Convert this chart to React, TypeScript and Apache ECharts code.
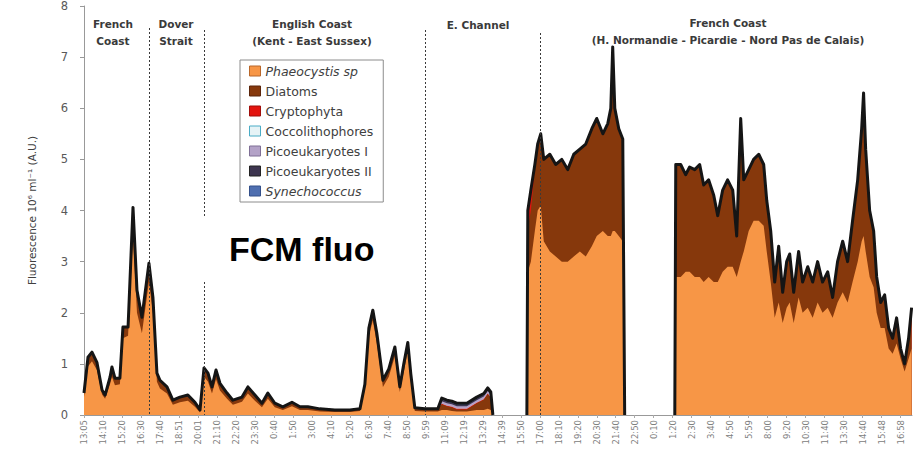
import React, { useEffect, useRef } from 'react';
import * as echarts from 'echarts';

// ---- tick labels (time of day, one per x unit) ----
const tickLabels = [
  '13:05', '14:10', '15:20', '16:30', '17:40', '18:51', '20:01', '21:10', '22:20', '23:30',
  '0:40', '1:50', '3:00', '4:10', '5:20', '6:30', '7:40', '8:50', '9:59', '11:09',
  '12:19', '13:29', '14:39', '15:50', '17:00', '18:10', '19:20', '20:30', '21:40', '22:50',
  '0:10', '1:20', '2:30', '3:40', '4:50', '5:59', '8:00', '9:20', '10:30', '11:40',
  '13:30', '14:40', '15:48', '16:58',
];

// ---- sample positions along the transect (in tick units) ----
const sampleTimes = [
  0, 0.21, 0.42, 0.68, 0.95, 1.11, 1.37, 1.47, 1.63, 1.89,
  2.05, 2.32, 2.58, 2.79, 3.05, 3.42, 3.63, 3.84, 4.0, 4.37,
  4.68, 5.05, 5.47, 5.84, 6.11, 6.32, 6.53, 6.74, 6.95, 7.16,
  7.53, 7.84, 8.32, 8.63, 9.0, 9.37, 9.68, 10.05, 10.47, 10.95,
  11.37, 11.79, 12.42, 13.21, 14.0, 14.53, 14.79, 15.0, 15.21, 15.42,
  15.74, 16.05, 16.37, 16.63, 16.84, 17.05, 17.21, 17.42, 17.95, 18.63,
  18.84, 19.11, 19.37, 19.63, 20.16, 20.68, 21.05, 21.26, 21.42, 21.53,
  22.4, 23.32, 23.37, 23.53, 23.74, 23.89, 24.05, 24.21, 24.53, 24.84,
  25.16, 25.47, 25.79, 26.11, 26.42, 26.74, 27.0, 27.32, 27.58, 27.74,
  27.84, 27.95, 28.16, 28.37, 28.47, 29.8, 31.11, 31.16, 31.42, 31.68,
  31.89, 32.16, 32.42, 32.63, 32.89, 33.16, 33.37, 33.63, 33.89, 34.16,
  34.37, 34.58, 34.74, 35.0, 35.26, 35.53, 35.79, 35.95, 36.16, 36.37,
  36.58, 36.79, 37.0, 37.16, 37.37, 37.63, 37.84, 38.11, 38.37, 38.63,
  38.89, 39.16, 39.42, 39.68, 39.95, 40.21, 40.47, 40.74, 40.95, 41.05,
  41.16, 41.37, 41.58, 41.74, 41.95, 42.16, 42.37, 42.58, 42.79, 43.0,
  43.21, 43.42, 43.58,
];

// ---- fluorescence per group (10^6 ml^-1, A.U.); null = no data ----
const phaeocystis = [
  0.35, 0.95, 1.05, 0.88, 0.40, 0.32, 0.60, 0.75, 0.58, 0.60,
  1.50, 1.55, 3.50, 2.00, 1.60, 2.60, 2.00, 0.65, 0.52, 0.42,
  0.20, 0.25, 0.28, 0.16, 0.05, 0.75, 0.65, 0.42, 0.70, 0.48,
  0.32, 0.20, 0.26, 0.42, 0.28, 0.15, 0.32, 0.15, 0.10, 0.17,
  0.10, 0.10, 0.07, 0.06, 0.06, 0.08, 0.50, 1.55, 1.85, 1.40,
  0.55, 0.75, 1.15, 0.45, 0.85, 1.25, 0.65, 0.08, 0.07, 0.07,
  0.10, 0.10, 0.08, 0.07, 0.07, 0.10, 0.10, 0.12, 0.10, 0,
  null, 0, 2.8, 3.0, 3.6, 4.0, 4.1, 3.4, 3.2, 3.1,
  3.0, 3.0, 3.1, 3.2, 3.1, 3.3, 3.5, 3.6, 3.5, 3.5,
  3.6, 3.6, 3.5, 3.4, 0, null, 0, 2.7, 2.7, 2.8,
  2.8, 2.7, 2.7, 2.6, 2.7, 2.6, 2.6, 2.8, 2.9, 2.9,
  2.7, 3.0, 3.2, 3.6, 3.8, 3.8, 3.7, 3.2, 2.6, 1.9,
  2.2, 1.8, 2.1, 2.2, 1.8, 2.3, 2.0, 2.1, 1.9, 2.2,
  2.0, 2.1, 1.9, 2.2, 2.4, 2.2, 2.6, 3.0, 3.4, 3.5,
  3.2, 2.7, 2.5, 2.0, 1.7, 1.7, 1.3, 1.2, 1.4, 1.1,
  0.85, 1.1, 1.3,
];
const diatoms = [
  0.08, 0.18, 0.18, 0.15, 0.09, 0.07, 0.14, 0.19, 0.14, 0.12,
  0.22, 0.17, 0.56, 0.44, 0.31, 0.37, 0.30, 0.17, 0.16, 0.13,
  0.09, 0.10, 0.11, 0.09, 0.05, 0.17, 0.17, 0.13, 0.18, 0.14,
  0.11, 0.09, 0.09, 0.13, 0.11, 0.08, 0.11, 0.08, 0.06, 0.08,
  0.06, 0.06, 0.05, 0.04, 0.04, 0.04, 0.10, 0.15, 0.20, 0.20,
  0.13, 0.15, 0.18, 0.10, 0.15, 0.17, 0.15, 0.06, 0.05, 0.05,
  0.11, 0.07, 0.07, 0.04, 0.04, 0.13, 0.20, 0.29, 0.23, 0,
  null, 0, 0.85, 1.0, 1.2, 1.3, 1.4, 1.6, 1.9, 1.8,
  2.0, 1.8, 2.0, 2.0, 2.2, 2.3, 2.3, 1.9, 2.2, 2.5,
  3.6, 2.4, 2.1, 2.0, 0, null, 0, 2.2, 2.2, 1.9,
  2.05, 2.1, 2.2, 1.9, 1.9, 1.7, 1.3, 1.6, 1.7, 1.5,
  0.8, 2.8, 1.4, 1.2, 1.2, 1.3, 1.2, 1.0, 1.0, 0.7,
  1.1, 0.6, 0.9, 0.95, 0.6, 0.9, 0.6, 0.8, 0.7, 0.8,
  0.6, 0.7, 0.4, 0.8, 1.0, 0.8, 1.2, 1.6, 2.2, 2.8,
  2.0, 1.3, 1.1, 0.7, 0.5, 0.65, 0.4, 0.3, 0.5, 0.2,
  0.15, 0.4, 0.8,
];
const cryptophyta = [
  0, 0, 0, 0, 0, 0, 0, 0, 0, 0,
  0, 0, 0, 0, 0, 0, 0, 0, 0, 0,
  0, 0, 0, 0, 0, 0, 0, 0, 0, 0,
  0, 0, 0, 0, 0, 0, 0, 0, 0, 0,
  0, 0, 0, 0, 0, 0, 0, 0, 0, 0,
  0, 0, 0, 0, 0, 0, 0, 0, 0, 0,
  0.01, 0.01, 0.01, 0.01, 0.01, 0.01, 0.01, 0.01, 0.01, 0,
  null, 0, 0.35, 0.4, 0.1, 0, 0, 0, 0, 0,
  0, 0, 0, 0, 0, 0, 0, 0, 0, 0,
  0, 0, 0, 0, 0, null, 0, 0, 0, 0,
  0, 0, 0, 0, 0, 0, 0, 0, 0, 0,
  0, 0, 0, 0, 0, 0, 0, 0, 0, 0,
  0, 0, 0, 0, 0, 0, 0, 0, 0, 0,
  0, 0, 0, 0, 0, 0, 0, 0, 0, 0,
  0, 0, 0, 0, 0, 0, 0, 0, 0, 0,
  0, 0, 0,
];
const coccolithophores = [
  0, 0, 0, 0, 0, 0, 0, 0, 0, 0,
  0, 0, 0, 0, 0, 0, 0, 0, 0, 0,
  0, 0, 0, 0, 0, 0, 0, 0, 0, 0,
  0, 0, 0, 0, 0, 0, 0, 0, 0, 0,
  0, 0, 0, 0, 0, 0, 0, 0, 0, 0,
  0, 0, 0, 0, 0, 0, 0, 0, 0, 0,
  0, 0, 0, 0, 0, 0, 0, 0, 0, 0,
  null, 0, 0, 0, 0, 0, 0, 0, 0, 0,
  0, 0, 0, 0, 0, 0, 0, 0, 0, 0,
  0, 0, 0, 0, 0, null, 0, 0, 0, 0,
  0, 0, 0, 0, 0, 0, 0, 0, 0, 0,
  0, 0, 0, 0, 0, 0, 0, 0, 0, 0,
  0, 0, 0, 0, 0, 0, 0, 0, 0, 0,
  0, 0, 0, 0, 0, 0, 0, 0, 0, 0,
  0, 0, 0, 0, 0, 0, 0, 0, 0, 0,
  0, 0, 0,
];
const picoeukaryotesI = [
  0, 0, 0, 0, 0, 0, 0, 0, 0, 0,
  0, 0, 0, 0, 0, 0, 0, 0, 0, 0,
  0, 0, 0, 0, 0, 0, 0, 0, 0, 0,
  0, 0, 0, 0, 0, 0, 0, 0, 0, 0,
  0, 0, 0, 0, 0, 0, 0, 0, 0, 0,
  0, 0, 0, 0, 0, 0, 0, 0, 0, 0,
  0.05, 0.05, 0.05, 0.05, 0.05, 0.05, 0.05, 0.05, 0.05, 0,
  null, 0, 0, 0, 0, 0, 0, 0, 0, 0,
  0, 0, 0, 0, 0, 0, 0, 0, 0, 0,
  0, 0, 0, 0, 0, null, 0, 0, 0, 0,
  0, 0, 0, 0, 0, 0, 0, 0, 0, 0,
  0, 0, 0, 0, 0, 0, 0, 0, 0, 0,
  0, 0, 0, 0, 0, 0, 0, 0, 0, 0,
  0, 0, 0, 0, 0, 0, 0, 0, 0, 0,
  0, 0, 0, 0, 0, 0, 0, 0, 0, 0,
  0, 0, 0,
];
const picoeukaryotesII = [
  0, 0, 0, 0, 0, 0, 0, 0, 0, 0,
  0, 0, 0, 0, 0, 0, 0, 0, 0, 0,
  0, 0, 0, 0, 0, 0, 0, 0, 0, 0,
  0, 0, 0, 0, 0, 0, 0, 0, 0, 0,
  0, 0, 0, 0, 0, 0, 0, 0, 0, 0,
  0, 0, 0, 0, 0, 0, 0, 0, 0, 0,
  0.03, 0.03, 0.03, 0.03, 0.03, 0.03, 0.03, 0.03, 0.03, 0,
  null, 0, 0, 0, 0, 0, 0, 0, 0, 0,
  0, 0, 0, 0, 0, 0, 0, 0, 0, 0,
  0, 0, 0, 0, 0, null, 0, 0, 0, 0,
  0, 0, 0, 0, 0, 0, 0, 0, 0, 0,
  0, 0, 0, 0, 0, 0, 0, 0, 0, 0,
  0, 0, 0, 0, 0, 0, 0, 0, 0, 0,
  0, 0, 0, 0, 0, 0, 0, 0, 0, 0,
  0, 0, 0, 0, 0, 0, 0, 0, 0, 0,
  0, 0, 0,
];
const synechococcus = [
  0, 0, 0, 0, 0, 0, 0, 0, 0, 0,
  0, 0, 0, 0, 0, 0, 0, 0, 0, 0,
  0, 0, 0, 0, 0, 0, 0, 0, 0, 0,
  0, 0, 0, 0, 0, 0, 0, 0, 0, 0,
  0, 0, 0, 0, 0, 0, 0, 0, 0, 0,
  0, 0, 0, 0, 0, 0, 0, 0, 0, 0,
  0.03, 0.03, 0.03, 0.03, 0.03, 0.03, 0.03, 0.03, 0.03, 0,
  null, 0, 0, 0, 0, 0, 0, 0, 0, 0,
  0, 0, 0, 0, 0, 0, 0, 0, 0, 0,
  0, 0, 0, 0, 0, null, 0, 0, 0, 0,
  0, 0, 0, 0, 0, 0, 0, 0, 0, 0,
  0, 0, 0, 0, 0, 0, 0, 0, 0, 0,
  0, 0, 0, 0, 0, 0, 0, 0, 0, 0,
  0, 0, 0, 0, 0, 0, 0, 0, 0, 0,
  0, 0, 0, 0, 0, 0, 0, 0, 0, 0,
  0, 0, 0,
];

const groupNames = [
  'Phaeocystis sp', 'Diatoms', 'Cryptophyta', 'Coccolithophores',
  'Picoeukaryotes I', 'Picoeukaryotes II', 'Synechococcus',
];
const groupValues = [
  phaeocystis, diatoms, cryptophyta, coccolithophores,
  picoeukaryotesI, picoeukaryotesII, synechococcus,
];

// region boundaries (tick units) and titles
const regionBoundaries = [3.42, 6.32, 17.95, 24.0];
const regionTitles = [
  'French\nCoast',
  'Dover\nStrait',
  'English Coast\n(Kent - East Sussex)',
  'E. Channel',
  'French Coast\n(H. Normandie - Picardie - Nord Pas de Calais)',
];

// ---- styles ----
const groupColors = ['#F79646', '#86380C', '#E3140F', '#E6F3F6', '#B3A2C7', '#3D3550', '#4F6FB0'];
const groupBorders = ['#B8672A', '#5A250A', '#A00E0B', '#4BACC6', '#7F6F95', '#222222', '#34508A'];
const italicGroups = ['Phaeocystis sp', 'Synechococcus'];
const boundaryTops = [28, 30, 30, 33];
const titleLayout = [
  { x: 113, y: 15 },
  { x: 176, y: 15 },
  { x: 312, y: 15 },
  { x: 478, y: 16 },
  { x: 728, y: 14 },
];

export default function App() {
  const ref = useRef<HTMLDivElement>(null);

  useEffect(() => {
    if (!ref.current) return;
    const chart = echarts.init(ref.current, null, { renderer: 'svg' });

    // cumulative stacks built from the group arrays
    const cumulative = groupValues.map((_, gi) =>
      sampleTimes.map((t, k) => {
        let s = 0;
        for (let j = 0; j <= gi; j++) {
          const v = groupValues[j][k];
          if (v === null || v === undefined) return [t, '-'];
          s += v;
        }
        return [t, Math.round(s * 1000) / 1000];
      })
    );

    const areaSeries: any[] = [];
    for (let gi = groupNames.length - 1; gi >= 0; gi--) {
      areaSeries.push({
        name: groupNames[gi],
        type: 'line',
        data: cumulative[gi],
        symbol: 'none',
        silent: true,
        itemStyle: { color: groupColors[gi] },
        lineStyle: { width: 0, opacity: 0 },
        areaStyle: { color: groupColors[gi], opacity: 1 },
        z: 2,
      });
    }
    areaSeries.push({
      name: 'Total',
      type: 'line',
      data: cumulative[groupNames.length - 1],
      symbol: 'none',
      silent: true,
      itemStyle: { color: '#111' },
      lineStyle: { color: '#151515', width: 3, join: 'round' },
      z: 3,
    });

    const option: any = {
      animation: false,
      backgroundColor: '#ffffff',
      grid: { left: 84, right: 2, top: 5, bottom: 39, containLabel: false },
      xAxis: {
        type: 'value',
        min: 0,
        max: 43.6,
        interval: 1,
        splitLine: { show: false },
        axisLine: { show: true, lineStyle: { color: '#999' } },
        axisTick: { show: true, length: 3, lineStyle: { color: '#aaa' } },
        axisLabel: {
          rotate: 90,
          fontSize: 8.5,
          fontFamily: 'DejaVu Sans',
          color: '#808080',
          margin: 5,
          showMaxLabel: false,
          formatter: (v: number) => {
            const i = Math.round(v);
            return Math.abs(v - i) < 1e-6 && tickLabels[i] ? tickLabels[i] : '';
          },
        },
      },
      yAxis: {
        type: 'value',
        min: 0,
        max: 8,
        interval: 1,
        splitLine: { show: false },
        axisLine: { show: true, lineStyle: { color: '#999' } },
        axisTick: { show: true, length: 4, lineStyle: { color: '#999' } },
        axisLabel: { fontSize: 11.5, fontFamily: 'DejaVu Sans', color: '#595959', margin: 16 },
        name: 'Fluorescence 10\u2076 ml\u207B\u00B9 (A.U.)',
        nameLocation: 'middle',
        nameRotate: 90,
        nameGap: 47,
        nameTextStyle: { fontSize: 10.5, fontFamily: 'DejaVu Sans', color: '#404040' },
      },
      legend: {
        orient: 'vertical',
        left: 240,
        top: 60,
        icon: 'rect',
        itemWidth: 11,
        itemHeight: 10,
        itemGap: 6,
        selectedMode: false,
        backgroundColor: '#ffffff',
        borderColor: '#8c8c8c',
        borderWidth: 1,
        padding: [4, 10, 4, 9],
        textStyle: { fontFamily: 'DejaVu Sans', fontSize: 12.5, color: '#404040', lineHeight: 14 },
        data: groupNames.map((n, i) => ({
          name: n,
          itemStyle: { color: groupColors[i], borderColor: groupBorders[i], borderWidth: 1 },
          textStyle: italicGroups.includes(n) ? { fontStyle: 'italic' } : {},
        })),
        z: 20,
      },
      series: areaSeries,
    };

    chart.setOption(option);

    const bottomY = chart.convertToPixel({ yAxisIndex: 0 }, 0) as number;
    const dotted = regionBoundaries.map((t, i) => {
      const x = Math.round(chart.convertToPixel({ xAxisIndex: 0 }, t) as number) + 0.5;
      return {
        type: 'line',
        z: 50,
        silent: true,
        shape: { x1: x, y1: boundaryTops[i], x2: x, y2: bottomY },
        style: { stroke: '#3a3a3a', lineWidth: 1, lineDash: [2, 2] },
      };
    });
    const titles = regionTitles.map((txt, i) => ({
      type: 'text',
      z: 61,
      silent: true,
      x: titleLayout[i].x,
      y: titleLayout[i].y,
      style: {
        text: txt,
        fontFamily: 'DejaVu Sans',
        fontWeight: 'bold',
        fontSize: 10.5,
        lineHeight: 17,
        fill: '#3a3a3a',
        align: 'center',
        verticalAlign: 'top',
      },
    }));

    chart.setOption({
      graphic: [
        ...dotted,
        {
          type: 'rect',
          z: 60,
          silent: true,
          shape: { x: 198, y: 216, width: 184, height: 66 },
          style: { fill: '#ffffff' },
        },
        {
          type: 'text',
          z: 61,
          silent: true,
          x: 229,
          y: 249,
          style: {
            text: 'FCM fluo',
            fontFamily: 'Liberation Sans',
            fontWeight: 'bold',
            fontSize: 34,
            fill: '#000000',
            align: 'left',
            verticalAlign: 'middle',
          },
        },
        ...titles,
      ],
    });

    return () => chart.dispose();
  }, []);

  return (
    <div
      ref={ref}
      style={{ position: 'absolute', left: 0, top: 0, width: 914, height: 454 }}
    />
  );
}
